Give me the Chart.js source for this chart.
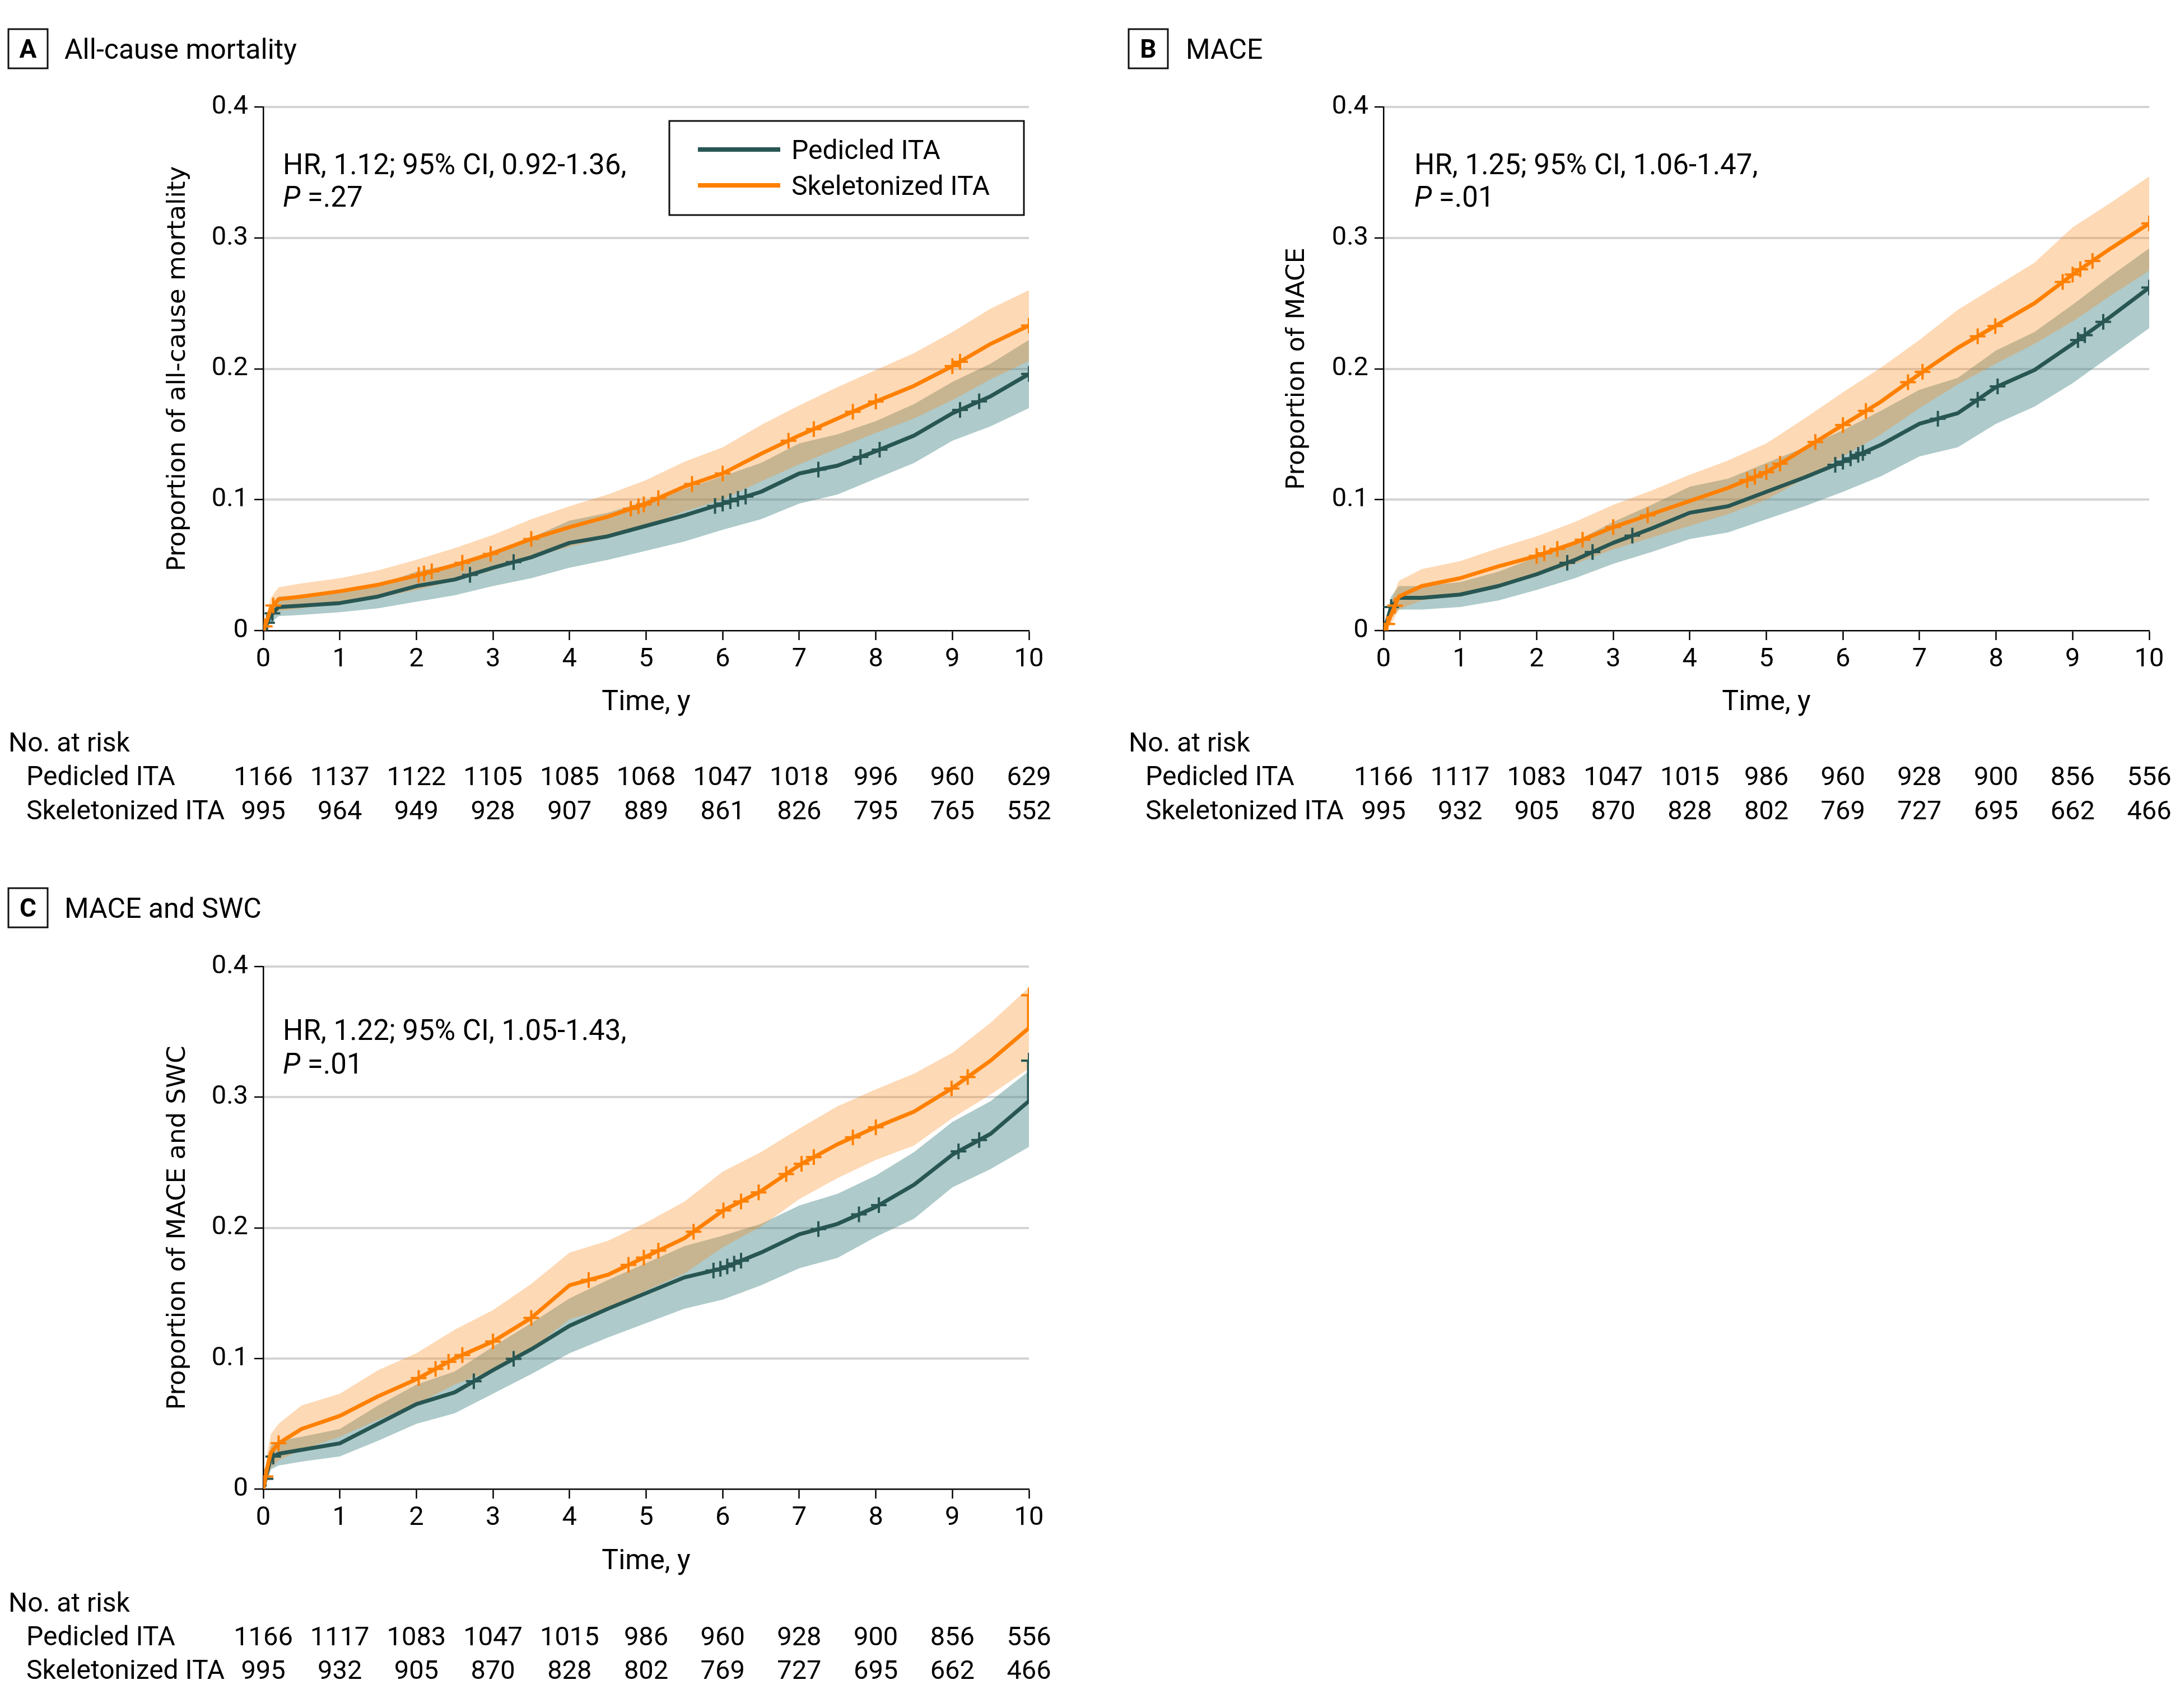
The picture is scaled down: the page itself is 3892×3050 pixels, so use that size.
<!DOCTYPE html>
<html>
<head>
<meta charset="utf-8">
<script src="https://cdn.jsdelivr.net/npm/chart.js@4.4.1/dist/chart.umd.min.js"></script>
<style>
html,body{margin:0;padding:0;background:#fff;}
body{width:3892px;height:3050px;position:relative;overflow:hidden;}
canvas{position:absolute;display:block;}
</style>
</head>
<body>
<script>
// ---------------- DATA ----------------
const xTickLabels = ['0','1','2','3','4','5','6','7','8','9','10'];
const yTickLabels = ['0','0.1','0.2','0.3','0.4'];
const groupNames = ['Pedicled ITA','Skeletonized ITA'];

// time points (years) at which the curves were read
const T_AB = [0,0.05,0.1,0.2,0.5,1,1.5,2,2.5,3,3.5,4,4.5,5,5.5,6,6.5,7,7.5,8,8.5,9,9.5,10];
const T_C  = [0,0.05,0.1,0.2,0.5,1,1.5,2,2.5,3,3.5,4,4.5,5,5.5,6,6.5,7,7.5,8,8.5,9,9.5,10,10];

// Panel A: all-cause mortality
const A_ped    = [0,0.006,0.012,0.018,0.019,0.021,0.026,0.034,0.039,0.048,0.056,0.067,0.072,0.080,0.088,0.097,0.106,0.120,0.126,0.137,0.149,0.166,0.179,0.196];
const A_pedLo  = [0,0.002,0.006,0.011,0.012,0.014,0.017,0.022,0.027,0.034,0.040,0.048,0.054,0.061,0.068,0.077,0.085,0.097,0.104,0.116,0.128,0.145,0.156,0.170];
const A_pedHi  = [0,0.011,0.019,0.026,0.027,0.029,0.035,0.045,0.051,0.061,0.071,0.084,0.090,0.099,0.108,0.118,0.128,0.143,0.150,0.160,0.173,0.190,0.204,0.222];
const A_skel   = [0,0.008,0.017,0.024,0.026,0.030,0.035,0.042,0.050,0.059,0.070,0.079,0.087,0.097,0.110,0.120,0.135,0.149,0.162,0.175,0.187,0.202,0.219,0.233];
const A_skelLo = [0,0.003,0.009,0.015,0.017,0.021,0.025,0.031,0.038,0.046,0.056,0.064,0.071,0.080,0.091,0.100,0.114,0.127,0.139,0.151,0.162,0.176,0.192,0.206];
const A_skelHi = [0,0.014,0.025,0.033,0.036,0.040,0.046,0.054,0.063,0.073,0.085,0.095,0.104,0.115,0.129,0.140,0.157,0.172,0.186,0.199,0.212,0.228,0.246,0.260];
const A_pedCens  = [0.05,0.12,2.7,3.27,5.9,6.0,6.1,6.2,6.3,7.25,7.8,8.05,9.1,9.35,10];
const A_skelCens = [0.02,0.13,2.03,2.1,2.2,2.6,2.97,3.5,4.8,4.9,4.97,5.16,5.6,6.0,6.86,7.19,7.7,8.0,9.0,9.1,10];
const A_riskPed  = [1166,1137,1122,1105,1085,1068,1047,1018,996,960,629];
const A_riskSkel = [995,964,949,928,907,889,861,826,795,765,552];

// Panel B: MACE
const B_ped    = [0,0.008,0.018,0.025,0.025,0.0275,0.034,0.043,0.054,0.067,0.078,0.090,0.095,0.106,0.117,0.129,0.142,0.158,0.166,0.186,0.199,0.219,0.240,0.262];
const B_pedLo  = [0,0.003,0.010,0.016,0.016,0.018,0.023,0.031,0.040,0.051,0.060,0.070,0.075,0.085,0.095,0.106,0.118,0.133,0.140,0.158,0.171,0.189,0.210,0.231];
const B_pedHi  = [0,0.013,0.026,0.034,0.034,0.037,0.045,0.056,0.068,0.083,0.096,0.110,0.116,0.128,0.140,0.153,0.168,0.184,0.193,0.214,0.228,0.249,0.271,0.292];
const B_skel   = [0,0.005,0.012,0.026,0.034,0.040,0.049,0.057,0.067,0.079,0.089,0.099,0.109,0.121,0.139,0.157,0.175,0.196,0.216,0.233,0.250,0.272,0.292,0.311];
const B_skelLo = [0,0.001,0.005,0.016,0.023,0.028,0.035,0.042,0.051,0.062,0.071,0.080,0.089,0.100,0.116,0.133,0.150,0.170,0.188,0.204,0.219,0.236,0.256,0.275];
const B_skelHi = [0,0.010,0.022,0.038,0.047,0.053,0.063,0.072,0.083,0.096,0.107,0.119,0.130,0.143,0.162,0.182,0.201,0.222,0.245,0.263,0.281,0.308,0.327,0.347];
const B_pedCens  = [0.1,2.4,2.73,3.25,5.9,6.0,6.1,6.2,6.26,7.24,7.76,8.02,9.07,9.16,9.4,10];
const B_skelCens = [0.05,0.15,2.0,2.1,2.27,2.6,3.0,3.45,4.75,4.85,5.0,5.18,5.64,6.0,6.3,6.85,7.04,7.76,7.99,8.87,9.0,9.1,9.26,10];
const B_riskPed  = [1166,1117,1083,1047,1015,986,960,928,900,856,556];
const B_riskSkel = [995,932,905,870,828,802,769,727,695,662,466];

// Panel C: MACE and SWC
const C_ped    = [0,0.013,0.024,0.027,0.030,0.035,0.050,0.065,0.074,0.091,0.107,0.125,0.138,0.150,0.162,0.169,0.181,0.195,0.203,0.216,0.233,0.256,0.272,0.297,0.328];
const C_pedLo  = [0,0.006,0.015,0.018,0.021,0.025,0.037,0.050,0.058,0.073,0.088,0.104,0.116,0.127,0.138,0.145,0.156,0.169,0.177,0.193,0.207,0.231,0.245,0.262,0.262];
const C_pedHi  = [0,0.020,0.033,0.037,0.040,0.046,0.064,0.080,0.090,0.109,0.127,0.146,0.160,0.173,0.186,0.194,0.203,0.217,0.226,0.240,0.258,0.281,0.297,0.320,0.320];
const C_skel   = [0,0.016,0.028,0.035,0.046,0.056,0.071,0.084,0.100,0.113,0.131,0.156,0.164,0.178,0.192,0.213,0.228,0.248,0.264,0.277,0.289,0.307,0.328,0.353,0.378];
const C_skelLo = [0,0.008,0.016,0.022,0.030,0.040,0.053,0.065,0.080,0.091,0.107,0.130,0.138,0.152,0.165,0.185,0.201,0.222,0.238,0.252,0.263,0.284,0.302,0.322,0.322];
const C_skelHi = [0,0.027,0.042,0.050,0.064,0.073,0.091,0.104,0.122,0.137,0.157,0.181,0.190,0.204,0.220,0.243,0.258,0.276,0.293,0.306,0.318,0.334,0.357,0.384,0.384];
const C_pedCens  = [0.03,0.13,2.75,3.27,5.88,5.97,6.06,6.15,6.24,7.25,7.78,8.04,9.08,9.35,10];
const C_skelCens = [0.03,0.2,2.03,2.25,2.42,2.6,3.0,3.5,4.25,4.77,4.97,5.16,5.62,6.01,6.24,6.47,6.83,7.03,7.19,7.7,8.0,8.99,9.2,10];
const C_riskPed  = [1166,1117,1083,1047,1015,986,960,928,900,856,556];
const C_riskSkel = [995,932,905,870,828,802,769,727,695,662,466];

// ---------------- STYLE ----------------
const FONT  = 'Roboto, "Liberation Sans", Arial, sans-serif';
const YFONT = '"DejaVu Sans", Verdana, sans-serif';
const TEAL = '#285653', ORANGE = '#ff8000';
const TEAL_BAND = 'rgba(70,135,135,0.44)';
const ORANGE_BAND = 'rgba(252,140,30,0.33)';

function pts(times, vals){ return vals.map((v,i)=>({x:times[i], y:v})); }
function valueAt(times, vals, t){
  for (let i = times.length-1; i >= 0; i--) {
    if (times[i] <= t) {
      if (i === times.length-1 || times[i] === t) return vals[i];
      const f = (t - times[i]) / (times[i+1] - times[i]);
      return vals[i] + f*(vals[i+1]-vals[i]);
    }
  }
  return vals[0];
}

function txt(ctx, s, x, yc, size, opts={}){
  ctx.save();
  ctx.font = (opts.italic?'italic ':'') + (opts.bold?'bold ':'') + size + 'px ' + FONT;
  ctx.fillStyle = '#000';
  ctx.textAlign = opts.align || 'left';
  ctx.textBaseline = 'alphabetic';
  ctx.fillText(s, x, yc + 0.355*size);
  const w = ctx.measureText(s).width;
  ctx.restore();
  return w;
}

function drawOverlay(chart, cfg){
  const ctx = chart.ctx;
  // panel letter box
  ctx.save();
  ctx.strokeStyle = '#111'; ctx.lineWidth = 3;
  ctx.strokeRect(cfg.box.x, cfg.box.y, 70, 70);
  ctx.restore();
  txt(ctx, cfg.letter, cfg.box.x+35, cfg.box.y+35, 46, {bold:true, align:'center'});
  txt(ctx, cfg.title, cfg.titleX, cfg.box.y+35, 50);
  // HR annotation
  txt(ctx, cfg.hr, cfg.hrX, cfg.hrY1, 51);
  const pw = txt(ctx, 'P', cfg.hrX, cfg.hrY2, 51, {italic:true});
  txt(ctx, ' =' + cfg.p, cfg.hrX + pw, cfg.hrY2, 51);
  // legend
  if (cfg.legend) {
    const L = cfg.legend;
    ctx.save();
    ctx.strokeStyle = '#111'; ctx.lineWidth = 3;
    ctx.strokeRect(L.x1, L.y1, L.x2-L.x1, L.y2-L.y1);
    ctx.lineWidth = 8;
    [[TEAL, L.r1],[ORANGE, L.r2]].forEach(([c,y])=>{
      ctx.strokeStyle = c; ctx.beginPath(); ctx.moveTo(L.lx1, y); ctx.lineTo(L.lx2, y); ctx.stroke();
    });
    ctx.restore();
    txt(ctx, groupNames[0], L.tx, L.r1, 48);
    txt(ctx, groupNames[1], L.tx, L.r2, 48);
  }
  // risk table
  const xs = chart.scales.x;
  const R = cfg.risk;
  txt(ctx, 'No. at risk', R.hx, R.y0, 48);
  txt(ctx, groupNames[0], R.lx, R.y1, 48);
  txt(ctx, groupNames[1], R.lx, R.y2, 48);
  R.ped.forEach((n,i)=> txt(ctx, String(n), xs.getPixelForValue(i), R.y1, 47, {align:'center'}));
  R.skel.forEach((n,i)=> txt(ctx, String(n), xs.getPixelForValue(i), R.y2, 47, {align:'center'}));
}

function makePanel(cfg){
  const cv = document.createElement('canvas');
  cv.width = cfg.w; cv.height = cfg.h;
  cv.style.left = cfg.left + 'px'; cv.style.top = cfg.top + 'px';
  cv.style.width = cfg.w + 'px'; cv.style.height = cfg.h + 'px';
  document.body.appendChild(cv);
  const t = cfg.t;
  const lineDs = (label, vals, color) => ({label, data: pts(t, vals), borderColor: color, borderWidth: 7,
    pointRadius: 0, fill: false, tension: 0, borderJoinStyle: 'round', borderCapStyle: 'butt'});
  const bandDs = (label, vals, fill, bg) => ({label, data: pts(t, vals), borderWidth: 0, borderColor: 'rgba(0,0,0,0)',
    pointRadius: 0, fill: fill, backgroundColor: bg, tension: 0});
  const censDs = (label, times, vals, color) => ({label, data: times.map(c => ({x: c, y: valueAt(t, vals, c)})),
    showLine: false, pointStyle: 'cross', pointRadius: 14, pointBorderWidth: 4, pointBorderColor: color,
    pointBackgroundColor: color, borderColor: color, fill: false});
  new Chart(cv, {
    type: 'line',
    data: { datasets: [
      censDs('Skeletonized censored', cfg.skelCens, cfg.skel, ORANGE),
      lineDs(groupNames[1], cfg.skel, ORANGE),
      censDs('Pedicled censored', cfg.pedCens, cfg.ped, TEAL),
      lineDs(groupNames[0], cfg.ped, TEAL),
      bandDs('Skeletonized upper', cfg.skelHi, '+1', ORANGE_BAND),
      bandDs('Skeletonized lower', cfg.skelLo, false, ORANGE_BAND),
      bandDs('Pedicled upper', cfg.pedHi, '+1', TEAL_BAND),
      bandDs('Pedicled lower', cfg.pedLo, false, TEAL_BAND)
    ]},
    options: {
      responsive: false, animation: false, events: [],
      layout: { padding: { left: 0, top: cfg.area.top, right: cfg.w - cfg.area.right, bottom: 0 } },
      plugins: { legend: { display: false }, tooltip: { enabled: false }, filler: { drawTime: 'beforeDatasetsDraw', propagate: false } },
      scales: {
        x: { type: 'linear', min: 0, max: 10,
          afterBuildTicks: s => { s.ticks = xTickLabels.map((l, i) => ({ value: i })); },
          ticks: { callback: (v, i) => xTickLabels[i], font: { family: FONT, size: 47 }, color: '#000', padding: 7, maxRotation: 0, autoSkip: false },
          grid: { drawOnChartArea: false, drawTicks: true, tickLength: 17, tickColor: '#000', tickWidth: 2.5 },
          border: { display: true, color: '#000', width: 2.5 },
          title: { display: true, text: 'Time, y', color: '#000', font: { family: FONT, size: 50 }, padding: { top: 0, bottom: cfg.xTitlePadB } },
          afterFit: s => { s.height = cfg.h - cfg.area.bottom; } },
        y: { type: 'linear', min: 0, max: 0.4,
          afterBuildTicks: s => { s.ticks = yTickLabels.map((l, i) => ({ value: i / 10 })); },
          ticks: { callback: (v, i) => yTickLabels[i], font: { family: FONT, size: 47 }, color: '#000', padding: 11 },
          grid: { color: c => (c.tick && c.tick.value === 0) ? 'rgba(0,0,0,0)' : '#d4d4d4', lineWidth: 4,
                  drawTicks: true, tickLength: 16, tickColor: '#000', tickWidth: 2.5 },
          border: { display: true, color: '#000', width: 2.5 },
          title: { display: true, text: cfg.ytitle, color: '#000', font: { family: YFONT, size: 45 }, padding: { top: cfg.yTitlePadT, bottom: 0 } },
          afterFit: s => { s.width = cfg.area.left; } }
      }
    },
    plugins: [{ id: 'overlay' + cfg.letter, afterDraw: ch => drawOverlay(ch, cfg) }]
  });
}

makePanel({
  letter: 'A', title: 'All-cause mortality', ytitle: 'Proportion of all-cause mortality',
  left: 0, top: 0, w: 1950, h: 1500, area: { left: 470, top: 191, right: 1837, bottom: 1126 },
  xTitlePadB: 215, yTitlePadT: 291,
  box: { x: 15, y: 52 }, titleX: 115,
  hr: 'HR, 1.12; 95% CI, 0.92-1.36,', p: '.27', hrX: 505, hrY1: 293, hrY2: 351,
  legend: { x1: 1195, y1: 216, x2: 1828, y2: 384, lx1: 1246, lx2: 1393, tx: 1413, r1: 267, r2: 331 },
  risk: { hx: 15, lx: 47, y0: 1325, y1: 1385, y2: 1446, ped: A_riskPed, skel: A_riskSkel },
  t: T_AB, ped: A_ped, pedLo: A_pedLo, pedHi: A_pedHi, skel: A_skel, skelLo: A_skelLo, skelHi: A_skelHi,
  pedCens: A_pedCens, skelCens: A_skelCens
});
makePanel({
  letter: 'B', title: 'MACE', ytitle: 'Proportion of MACE',
  left: 1995, top: 0, w: 1897, h: 1500, area: { left: 475, top: 191, right: 1842, bottom: 1126 },
  xTitlePadB: 215, yTitlePadT: 294,
  box: { x: 20, y: 52 }, titleX: 122,
  hr: 'HR, 1.25; 95% CI, 1.06-1.47,', p: '.01', hrX: 530, hrY1: 293, hrY2: 351,
  legend: null,
  risk: { hx: 20, lx: 50, y0: 1325, y1: 1385, y2: 1446, ped: B_riskPed, skel: B_riskSkel },
  t: T_AB, ped: B_ped, pedLo: B_pedLo, pedHi: B_pedHi, skel: B_skel, skelLo: B_skelLo, skelHi: B_skelHi,
  pedCens: B_pedCens, skelCens: B_skelCens
});
makePanel({
  letter: 'C', title: 'MACE and SWC', ytitle: 'Proportion of MACE and SWC',
  left: 0, top: 1540, w: 1950, h: 1510, area: { left: 470, top: 186, right: 1837, bottom: 1119 },
  xTitlePadB: 231, yTitlePadT: 291,
  box: { x: 15, y: 46 }, titleX: 115,
  hr: 'HR, 1.22; 95% CI, 1.05-1.43,', p: '.01', hrX: 505, hrY1: 299, hrY2: 359,
  legend: null,
  risk: { hx: 15, lx: 47, y0: 1321, y1: 1381, y2: 1441, ped: C_riskPed, skel: C_riskSkel },
  t: T_C, ped: C_ped, pedLo: C_pedLo, pedHi: C_pedHi, skel: C_skel, skelLo: C_skelLo, skelHi: C_skelHi,
  pedCens: C_pedCens, skelCens: C_skelCens
});
</script>
</body>
</html>
